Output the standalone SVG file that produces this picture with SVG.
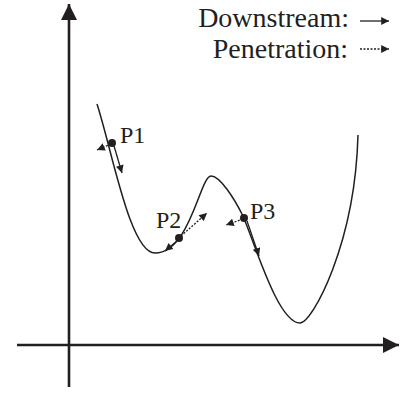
<svg xmlns="http://www.w3.org/2000/svg" width="401" height="393" viewBox="0 0 401 393">
<style>
.axis{stroke:#231f20;stroke-width:2.6;fill:none}
.curve{stroke:#231f20;stroke-width:1.5;fill:none}
.ds{stroke:#231f20;stroke-width:1.3;fill:none}
.pen{stroke:#231f20;stroke-width:1.3;fill:none;stroke-dasharray:2 1.5}
.lbl{font-family:"Liberation Serif","Times New Roman",serif;fill:#231f20}
.pl{font-size:24px}
.lg{font-size:28px}
</style>
<defs>
<marker id="axh" viewBox="0 0 10 10" refX="10" refY="5" markerWidth="6.2" markerHeight="6.2" markerUnits="strokeWidth" orient="auto"><path d="M0,0 L10,5 L0,10 z" fill="#231f20"/></marker>
<marker id="sh" viewBox="0 0 10 10" refX="10" refY="5" markerWidth="6.5" markerHeight="6" markerUnits="strokeWidth" orient="auto"><path d="M0,0 L10,5 L0,10 z" fill="#231f20"/></marker>
</defs>
<g id="axes">
<line class="axis" x1="69" y1="387" x2="69" y2="4" marker-end="url(#axh)"/>
<line class="axis" x1="17" y1="345" x2="399" y2="345" marker-end="url(#axh)"/>
</g>
<g id="curve">
<path class="curve" d="M97,104 C112,150 130,253 155,253 C190,253 200,176 211,176 C220,176 234,198 243,216 C255,244 278,323 300,323 C312,323 355,245 358,135"/>
</g>
<g id="P1">
<circle cx="112" cy="143" r="4" fill="#231f20"/>
<text class="lbl pl" x="120" y="143">P1</text>
</g>
<g id="P2">
<circle cx="179" cy="238" r="4" fill="#231f20"/>
<text class="lbl pl" x="156" y="228">P2</text>
</g>
<g id="P3">
<circle cx="244" cy="218" r="4" fill="#231f20"/>
<text class="lbl pl" x="250" y="219">P3</text>
</g>
<g id="connectors">
<line class="ds" x1="114" y1="146" x2="122" y2="173" marker-end="url(#sh)"/>
<line class="pen" x1="111" y1="144" x2="97" y2="150" marker-end="url(#sh)"/>
<line class="ds" x1="177" y1="241" x2="165" y2="251" marker-end="url(#sh)"/>
<line class="pen" x1="181" y1="236" x2="207" y2="213" marker-end="url(#sh)"/>
<line class="ds" x1="247" y1="221" x2="259" y2="256" marker-end="url(#sh)"/>
<line class="pen" x1="243" y1="219" x2="226" y2="225" marker-end="url(#sh)"/>
</g>
<g id="legend">
<text class="lbl lg" x="349" y="27" text-anchor="end">Downstream:</text>
<text class="lbl lg" x="348" y="58" text-anchor="end">Penetration:</text>
<line class="ds" x1="360" y1="21" x2="389" y2="21" marker-end="url(#sh)"/>
<line class="pen" x1="360" y1="49" x2="389" y2="49" marker-end="url(#sh)"/>
</g>
</svg>
